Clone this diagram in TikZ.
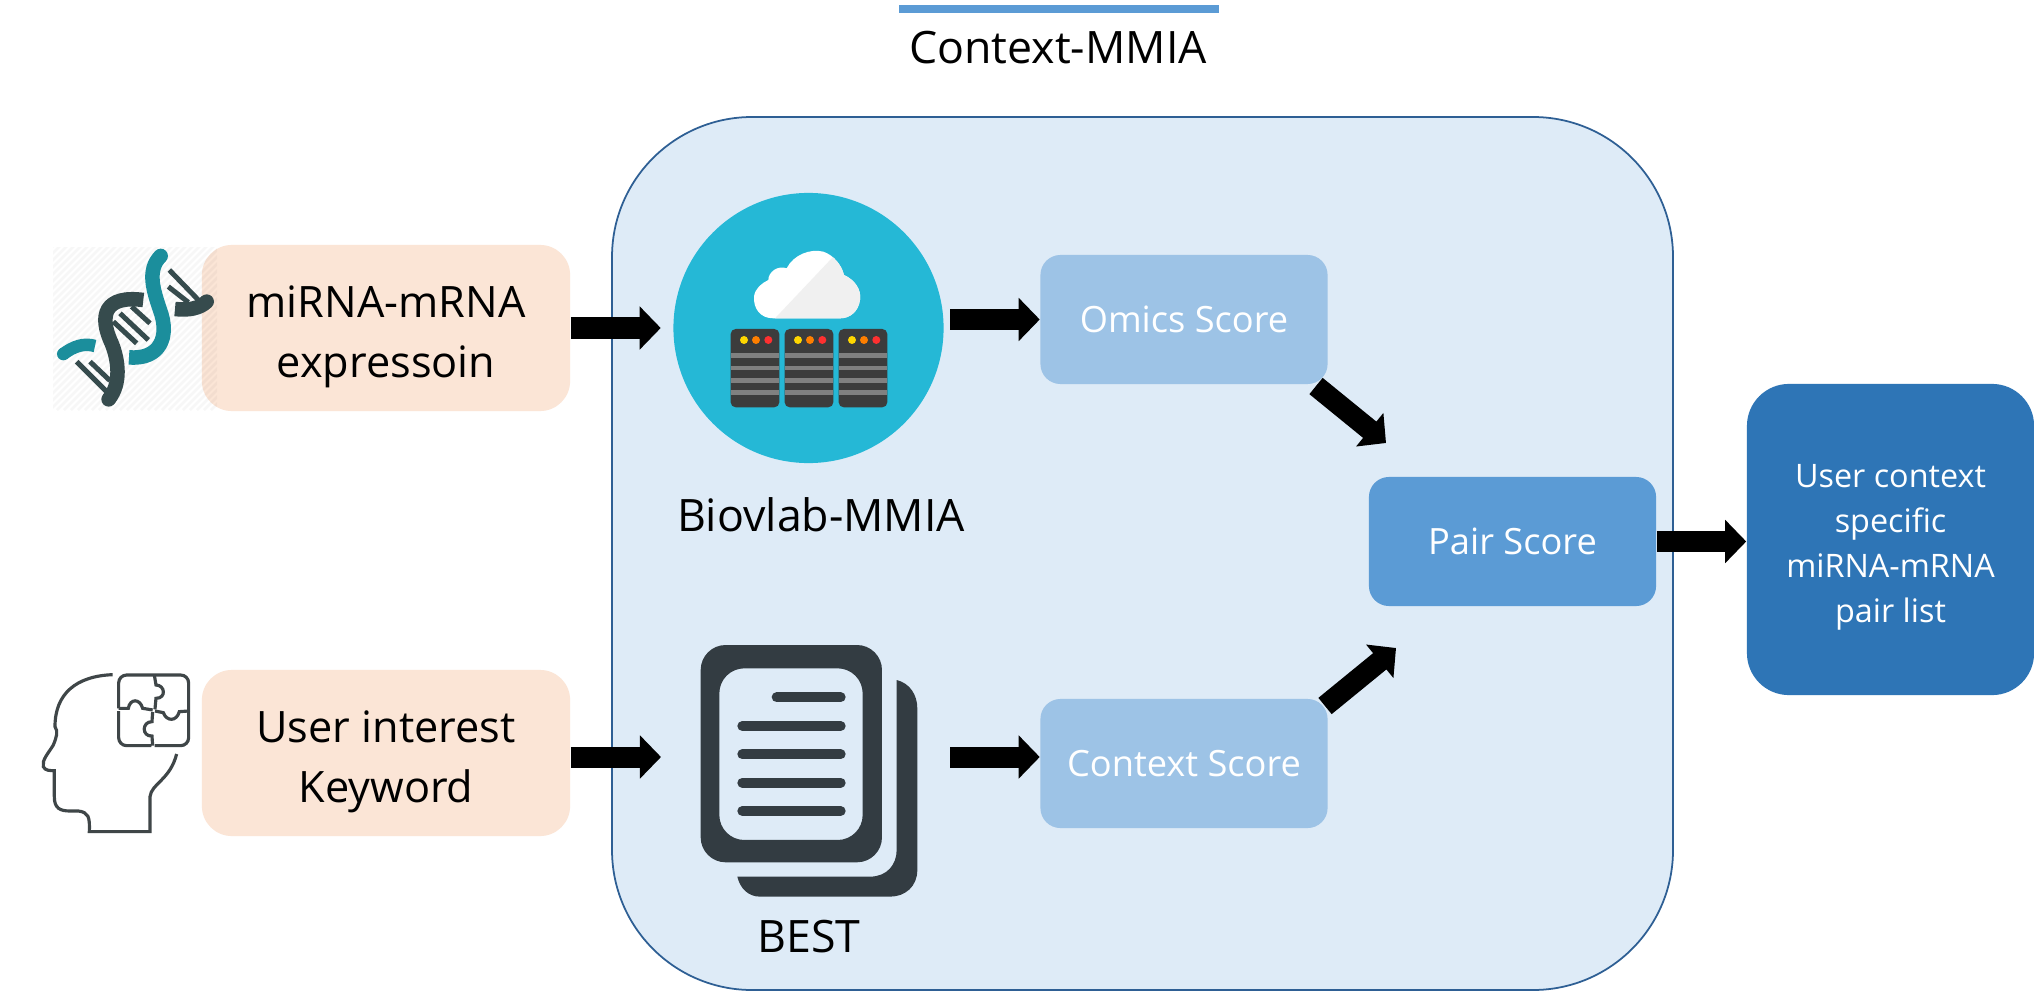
\documentclass[tikz,border=0pt]{standalone}
\usepackage{fontspec}
\setmainfont{Open Sans}
\usepackage[dvipsnames,svgnames,x11names]{xcolor}
\usetikzlibrary{arrows.meta,calc}
\definecolor{peach}{HTML}{FBE5D6}
\definecolor{mmiabg}{HTML}{DEEBF7}
\definecolor{mmialine}{HTML}{2E5F94}
\definecolor{scorelight}{HTML}{9DC3E6}
\definecolor{scoremid}{HTML}{5B9BD5}
\definecolor{scoredark}{HTML}{2E75B6}
\definecolor{dnateal}{HTML}{1B8E9C}
\definecolor{dnadark}{HTML}{364B4D}
\definecolor{headgray}{HTML}{3F4648}
\definecolor{docdark}{HTML}{333C42}
\definecolor{cloudblue}{HTML}{25B8D6}
\definecolor{rackdark}{HTML}{3C3C3C}
\newcommand{\inlift}{\rule{0pt}{14pt}}
\begin{document}
\begin{tikzpicture}[x=0.01cm,y=-0.01cm,
    inbox/.style={fill=peach,rounded corners=0.3cm,minimum width=3.68cm,minimum height=1.66cm,inner sep=0pt,align=center,font=\fontsize{12.3}{17.2}\selectfont},
    scorebox/.style={rounded corners=0.2cm,minimum width=2.87cm,minimum height=1.29cm,inner sep=0pt,text=white,align=center,font=\fontsize{10.3}{12.8}\selectfont},
    bigarrow/.style={line width=0.21cm,-{Triangle[length=0.21cm,width=0.42cm]}},
    caption/.style={inner sep=0pt,font=\fontsize{12.7}{15}\selectfont}]
    \useasboundingbox (0,0) rectangle (2034,997);
    \fill[white] (0,0) rectangle (2034,997);
    \fill[scoremid] (899,5) rectangle (1219,13);
    \node[caption] (title) at (1058,48) {Context-MMIA};
    \draw[mmialine,fill=mmiabg,rounded corners=1.4cm,line width=0.5pt] (612,117) rectangle (1673,990);
    \node[inbox] (mirna) at (386,328) {\inlift miRNA-mRNA\\expressoin};
    \node[inbox] (keyword) at (386,753) {\inlift User interest\\Keyword};
    \node[circle,fill=cloudblue,minimum size=2.7cm,inner sep=0pt] (biovlab) at (808.5,328) {};
    \node[caption] (biolabel) at (821,515) {Biovlab-MMIA};
    \node[caption] (bestlabel) at (809,937) {BEST};
    \node[scorebox,fill=scorelight] (omics) at (1184,319.5) {Omics Score};
    \node[scorebox,fill=scorelight] (context) at (1184,763.5) {Context Score};
    \node[scorebox,fill=scoremid] (pairscore) at (1512.5,541.5) {Pair Score};
    \node[scorebox,fill=scoredark,minimum height=3.11cm,rounded corners=0.42cm,font=\fontsize{9.2}{12.8}\selectfont] (userlist) at (1890.5,539.5) {\rule{0pt}{11pt}User context\\specific\\miRNA-mRNA\\pair list};
    \coordinate (bestin) at (661,757);
    \coordinate (bestout) at (950,757);
    \coordinate (cloudout) at (950,319.5);
    \coordinate (omicsout) at (1316,386);
    \coordinate (pairtop) at (1386,443);
    \coordinate (contextout) at (1325,706);
    \coordinate (pairbottom) at (1396,648);
    \draw[bigarrow,shorten >=0.12cm] (mirna.east) -- (biovlab.west);
    \draw[bigarrow] (cloudout) -- (omics.west);
    \draw[bigarrow] (keyword.east |- bestin) -- (bestin);
    \draw[bigarrow] (bestout) -- (context.west |- bestout);
    \draw[bigarrow] (omicsout) -- (pairtop);
    \draw[bigarrow] (contextout) -- (pairbottom);
    \draw[bigarrow] (pairscore.east) -- (userlist.west |- pairscore.east);
    \begin{scope}
        \clip (53,247) rectangle (217,410);
        \foreach \i in {0,7,...,330}
            \draw[black,opacity=0.03,line width=0.8pt] ({53+\i-164},410)--({53+\i},246);
    \end{scope}
    \begin{scope}[shift={(30,220)},scale=0.3333]
        \draw[dnadark,line width=0.05cm] (418,150)--(510,245);
        \draw[dnadark,line width=0.05cm] (415,200)--(475,247);
        \draw[dnadark,line width=0.05cm] (140,425)--(235,520);
        \draw[dnadark,line width=0.05cm] (180,425)--(240,482);
        \draw[dnadark,line width=0.05cm] (250,305)--(320,370);
        \draw[dnadark,line width=0.05cm] (270,280)--(355,360);
        \draw[dnadark,line width=0.05cm] (305,260)--(360,310);
        \draw[dnadark,line width=0.145cm] (236,538) .. controls (275,490) and (265,420) .. (245,370) .. controls (205,285) and (225,225) .. (340,240);
        \draw[dnadark,line width=0.145cm] (435,267) .. controls (475,272) and (510,265) .. (530,245);
        \fill[dnadark] (236,538) circle (22);
        \fill[dnadark] (530,245) circle (22);
        \draw[dnateal,line width=0.145cm] (392,108) .. controls (350,150) and (370,210) .. (390,270) .. controls (420,350) and (390,420) .. (297,412);
        \draw[dnateal,line width=0.125cm] (100,402) .. controls (130,380) and (160,368) .. (195,378);
        \fill[dnateal] (392,108) circle (22);
        \fill[dnateal] (100,402) circle (19);
    \end{scope}
    \begin{scope}[shift={(20,650)},scale=0.3333,headgray,line width=0.9pt]
        \draw (278,74) .. controls (170,78) and (105,130) .. (105,230) .. controls (115,245) and (110,260) .. (100,285) .. controls (85,310) and (65,330) .. (70,350) .. controls (75,362) and (90,362) .. (103,362) -- (103,440) .. controls (103,475) and (120,483) .. (150,483) -- (175,483) .. controls (205,487) and (210,500) .. (208,545) -- (390,545) -- (390,440) .. controls (395,400) and (450,390) .. (470,312);
        \draw[rounded corners=0.08cm] (296,175) -- (296,75) -- (506,75) -- (506,183);
        \draw[rounded corners=0.08cm] (296,183) -- (296,287) -- (394,287);
        \draw[rounded corners=0.08cm] (404,287) -- (506,287) -- (506,183);
        \draw (403,75) -- (408,105) .. controls (435,105) and (440,145) .. (408,145) -- (405,178);
        \draw (296,175) -- (325,175) .. controls (330,145) and (360,145) .. (368,175) -- (398,180);
        \draw (398,186) -- (396,215) .. controls (365,215) and (365,260) .. (396,258) -- (398,287);
        \draw (405,183) -- (430,188) .. controls (440,215) and (470,215) .. (478,185) -- (506,183);
    \end{scope}
    \begin{scope}[shift={(640,170)},scale=0.3333]
        \path[fill=white] (400,445) .. controls (360,445) and (340,415) .. (342,380) .. controls (345,355) and (365,340) .. (385,330) .. controls (385,305) and (415,285) .. (440,295) .. controls (460,255) and (510,235) .. (550,245) .. controls (580,255) and (605,285) .. (612,315) .. controls (645,330) and (665,360) .. (660,390) .. controls (655,425) and (630,445) .. (600,445) -- cycle;
        \begin{scope}
            \clip (578,262) -- (405,445) -- (700,445) -- (700,240) -- (578,240) -- cycle;
            \path[fill=black!6] (400,445) .. controls (360,445) and (340,415) .. (342,380) .. controls (345,355) and (365,340) .. (385,330) .. controls (385,305) and (415,285) .. (440,295) .. controls (460,255) and (510,235) .. (550,245) .. controls (580,255) and (605,285) .. (612,315) .. controls (645,330) and (665,360) .. (660,390) .. controls (655,425) and (630,445) .. (600,445) -- cycle;
        \end{scope}
        \foreach \r in {272,434,596} {
            \fill[rackdark,rounded corners=0.05cm] (\r,477) rectangle ({\r+146},712);
            \foreach \s in {557,594,631,668}
                \fill[gray] (\r,{\s-7}) rectangle ({\r+146},{\s+7});
            \fill[Gold1] ({\r+40},510) circle (12);
            \fill[DarkOrange1] ({\r+76},510) circle (12);
            \fill[Firebrick1] ({\r+113},510) circle (12);
        }
    \end{scope}
    \begin{scope}[shift={(680,630)},scale=0.3333]
        \fill[docdark] (650,150) .. controls (690,160) and (712,195) .. (712,235) -- (712,720) .. controls (712,770) and (675,800) .. (630,800) -- (240,800) .. controls (205,800) and (180,775) .. (172,740) -- (570,740) .. controls (620,740) and (650,705) .. (650,660) -- cycle;
        \fill[docdark,rounded corners=0.25cm,even odd rule] (62,45) rectangle (606,697) (118,115) rectangle (548,630);
        \draw[docdark,line width=0.1cm,line cap=round] (290,202)--(482,202);
        \foreach \l in {288,373,458,543}
            \draw[docdark,line width=0.1cm,line cap=round] (187,\l)--(482,\l);
    \end{scope}
\end{tikzpicture}
\end{document}
